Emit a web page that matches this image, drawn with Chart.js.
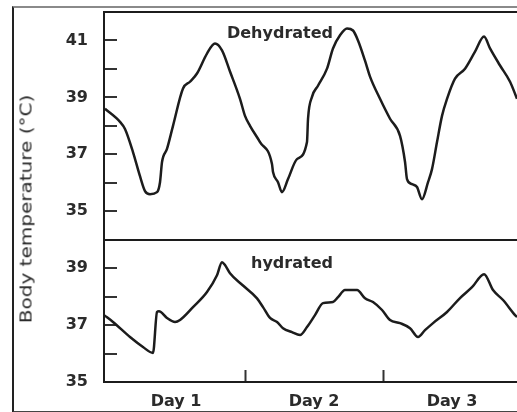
<!DOCTYPE html>
<html>
<head>
<meta charset="utf-8">
<script src="https://cdn.jsdelivr.net/npm/chart.js@4/dist/chart.umd.min.js"></script>
<style>
html,body{margin:0;padding:0;background:#fff;overflow:hidden;}
#wrap{position:relative;width:517px;height:412px;overflow:hidden;}
#frame{position:absolute;left:12px;top:6px;width:530px;height:403px;border-left:2px solid #222;border-top:2px solid #8a8a8a;border-bottom:2px solid #444;}
canvas{position:absolute;left:0;top:0;}
.lbl{position:absolute;font-family:'DejaVu Sans',sans-serif;font-weight:bold;font-size:16px;color:#2b2b2b;white-space:nowrap;transform:translate(-50%,-50%);}
#ytitle{position:absolute;left:26px;top:209px;font-family:'DejaVu Sans',sans-serif;font-size:16px;color:#2a2a2a;white-space:nowrap;transform:translate(-50%,-50%) rotate(-90deg) scaleX(1.25);}
</style>
</head>
<body>
<div id="wrap">
  <div id="frame"></div>
  <canvas id="c" width="517" height="412"></canvas>
  <div id="ytitle">Body temperature (°C)</div>
  <div class="lbl" id="lblTop" style="left:280px;top:32px;"></div>
  <div class="lbl" id="lblBot" style="left:292px;top:262px;"></div>
</div>
<script>
// ---- data (hours since start of Day 1, body temperature in °C) ----
const hoursDehydrated = [-0.35, 2.26, 3.13, 4.52, 5.74, 6.61, 7.48, 8.70, 9.22, 9.57, 10.43, 11.48, 13.22, 14.43, 15.65, 17.39, 18.78, 20.0, 21.39, 23.13, 24.0, 24.87, 26.61, 28.69, 28.87, 29.74, 30.43, 31.48, 33.04, 34.78, 34.96, 35.65, 36.69, 38.26, 39.30, 40.52, 41.74, 42.78, 43.65, 44.87, 45.74, 47.48, 49.22, 50.96, 51.83, 52.17, 53.04, 53.91, 54.78, 55.83, 56.52, 57.39, 58.26, 59.13, 60.52, 62.26, 64.0, 65.57, 66.61, 68.35, 70.09, 71.3];
const tempDehydrated = [38.60, 38.14, 37.89, 37.08, 36.23, 35.71, 35.60, 35.67, 36.02, 36.73, 37.19, 38.00, 39.31, 39.55, 39.84, 40.54, 40.89, 40.65, 39.91, 38.95, 38.35, 38.00, 37.43, 36.66, 36.38, 36.02, 35.67, 36.13, 36.83, 37.43, 38.25, 39.02, 39.41, 40.01, 40.72, 41.18, 41.42, 41.35, 41.00, 40.29, 39.73, 38.95, 38.25, 37.65, 36.73, 36.13, 35.95, 35.85, 35.42, 36.02, 36.48, 37.43, 38.35, 38.95, 39.66, 40.01, 40.61, 41.14, 40.72, 40.12, 39.55, 38.95];
const hoursHydrated = [-0.5, 1.04, 4.0, 6.26, 8.0, 8.70, 9.04, 10.43, 11.83, 12.70, 14.96, 17.39, 19.13, 20.0, 20.52, 21.39, 23.65, 26.09, 27.13, 28.35, 29.57, 30.61, 32.17, 33.57, 34.78, 36.17, 37.57, 39.30, 40.17, 41.39, 43.48, 44.87, 46.26, 47.83, 49.22, 50.96, 52.70, 54.09, 55.30, 56.70, 59.13, 61.39, 63.48, 65.57, 67.13, 68.87, 70.96, 71.3];
const tempHydrated = [37.35, 37.11, 36.58, 36.23, 36.02, 37.46, 37.49, 37.25, 37.11, 37.18, 37.63, 38.16, 38.75, 39.21, 39.11, 38.82, 38.39, 37.94, 37.63, 37.25, 37.11, 36.89, 36.75, 36.65, 36.93, 37.35, 37.77, 37.81, 37.98, 38.23, 38.23, 37.94, 37.81, 37.53, 37.18, 37.07, 36.89, 36.58, 36.82, 37.07, 37.46, 37.95, 38.33, 38.79, 38.23, 37.88, 37.35, 37.28];
const panelNames = ['Dehydrated', 'hydrated'];
const dayTickValues = [12, 24, 36, 48, 60];
const dayLabels = ['Day 1', '', 'Day 2', '', 'Day 3'];
const topTickLabels = [35, 37, 39, 41];
const bottomTickLabels = [35, 37, 39];
const axisTitle = 'Body temperature (°C)';

document.getElementById('lblTop').textContent = panelNames[0];
document.getElementById('lblBot').textContent = panelNames[1];
document.getElementById('ytitle').textContent = axisTitle;

const ink = '#1c1c1c';
const textInk = '#2b2b2b';
const clear = 'rgba(0,0,0,0)';
const tickFont = {family: 'DejaVu Sans', size: 16, weight: 'bold'};

function noPad(s) { s.paddingTop = 0; s.paddingBottom = 0; s.paddingLeft = 0; s.paddingRight = 0; }

function yScale(min, max, weight, labels, tickMin, tickMax, lineVals) {
  return {
    type: 'linear', position: 'left', stack: 'temp', stackWeight: weight,
    min: min, max: max,
    afterFit: s => { s.width = 104; noPad(s); },
    ticks: {
      stepSize: 1, autoSkip: false, padding: 29, color: textInk, font: tickFont,
      callback: v => labels.includes(v) ? String(v) : ''
    },
    grid: {
      drawOnChartArea: true, drawTicks: true, tickLength: -13, tickWidth: 2, lineWidth: 2,
      color: c => (c.tick && lineVals.includes(c.tick.value)) ? ink : clear,
      tickColor: c => (c.tick && c.tick.value >= tickMin && c.tick.value <= tickMax) ? '#333' : clear
    },
    border: {display: true, color: ink, width: 2}
  };
}

new Chart(document.getElementById('c'), {
  type: 'line',
  data: {
    datasets: [
      {label: panelNames[0], yAxisID: 'yTop', data: hoursDehydrated.map((h, i) => ({x: h, y: tempDehydrated[i]})),
       borderColor: ink, borderWidth: 2.5, pointRadius: 0, cubicInterpolationMode: 'monotone', fill: false},
      {label: panelNames[1], yAxisID: 'yBot', data: hoursHydrated.map((h, i) => ({x: h, y: tempHydrated[i]})),
       borderColor: ink, borderWidth: 2.5, pointRadius: 0, cubicInterpolationMode: 'monotone', fill: false}
    ]
  },
  options: {
    responsive: false, animation: false, events: [],
    layout: {padding: {left: 0, right: 0, top: 12, bottom: 0}},
    plugins: {legend: {display: false}, tooltip: {enabled: false}, title: {display: false}},
    scales: {
      x: {
        type: 'linear', position: 'bottom', min: -0.52, max: 71.3,
        afterBuildTicks: s => { s.ticks = dayTickValues.map(v => ({value: v})); },
        afterFit: s => { s.height = 30; noPad(s); },
        ticks: {
          autoSkip: false, maxRotation: 0, padding: 22, color: textInk, font: tickFont,
          callback: v => { const i = dayTickValues.indexOf(v); return i >= 0 ? dayLabels[i] : ''; }
        },
        grid: {
          drawOnChartArea: false, drawTicks: true, tickLength: -12, tickWidth: 2,
          color: clear,
          tickColor: c => (c.tick && dayLabels[dayTickValues.indexOf(c.tick.value)] === '') ? '#333' : clear
        },
        border: {display: true, color: ink, width: 2}
      },
      yBot: yScale(35, 40, 5, bottomTickLabels, 36, 39, []),
      yTop: yScale(34, 42, 8, topTickLabels, 35, 41, [34, 42])
    }
  }
});
</script>
</body>
</html>
